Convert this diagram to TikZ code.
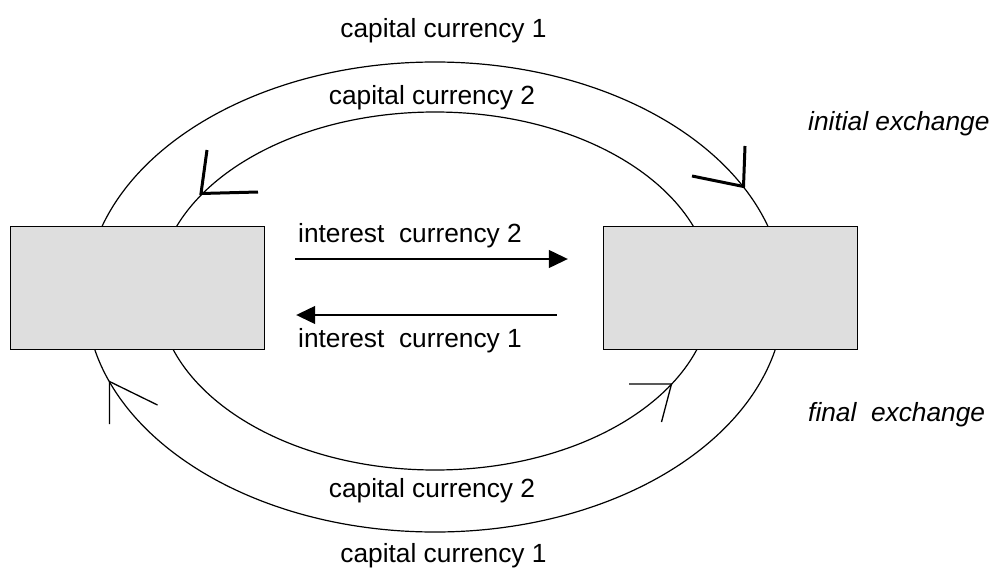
\documentclass[tikz,border=0pt]{standalone}
\usepackage{fontspec}
\setmainfont{Liberation Sans}
\usetikzlibrary{arrows.meta}

\begin{document}
\begin{tikzpicture}[x=1pt, y=-1pt,
    flow/.style={line width=1.2pt},
    party/.style={draw, line width=1.4pt, fill=black!13, minimum width=254pt,
      minimum height=123pt, inner sep=0pt},
    label/.style={inner sep=0pt, font=\fontsize{26.3}{31}\selectfont},
    note/.style={label, font=\fontsize{26.3}{31}\selectfont\itshape},
    pay/.style={line width=1.2pt, -{Triangle[length=19pt, width=18pt]}},
    headbold/.style={line width=3pt},
    headthin/.style={line width=1.3pt}]
  \useasboundingbox (0,0) rectangle (992,567);

  % capital flows: outer ring (currency 1) and inner ring (currency 2)
  \draw[flow] (435,297) ellipse [x radius=349pt, y radius=235pt];
  \draw[flow] (435,291) ellipse [x radius=277pt, y radius=179pt];

  % the two counterparties
  \node[party] (left)  at (137.5,288) {};
  \node[party] (right) at (730.5,288) {};

  % interest payments between the parties
  \coordinate (i2s) at ([shift={(30,-29)}]left.east);
  \coordinate (i2e) at ([shift={(-35,-29)}]right.west);
  \coordinate (i1s) at ([shift={(-46,27)}]right.west);
  \coordinate (i1e) at ([shift={(31,27)}]left.east);
  \draw[pay] (i2s) -- (i2e);
  \draw[pay] (i1s) -- (i1e);

  % direction marks on the rings
  \draw[headbold] (207,150) -- (201,193.5) -- (258,192);
  \draw[headbold] (745,146) -- (743.5,186.5) -- (692,176);
  \draw[headthin] (109.5,424) -- (109.5,381.5) -- (157.5,405);
  \draw[headthin] (629,384) -- (671.5,384) -- (661.5,422);

  % labels
  \node[label, anchor=base] (cc1t) at (443.5,38) {capital currency 1};
  \node[label, anchor=base] (cc2t) at (432,105) {capital currency 2};
  \node[label, anchor=base west] (int2) at (298,242) {interest\ \ currency 2};
  \node[label, anchor=base west] (int1) at (298,347) {interest\ \ currency 1};
  \node[note, anchor=base west] (init) at (808,130) {initial exchange};
  \node[note, anchor=base west] (fin) at (808,421) {final\ \ exchange};
  \node[label, anchor=base] (cc2b) at (432,497) {capital currency 2};
  \node[label, anchor=base] (cc1b) at (443.5,562) {capital currency 1};
\end{tikzpicture}
\end{document}
